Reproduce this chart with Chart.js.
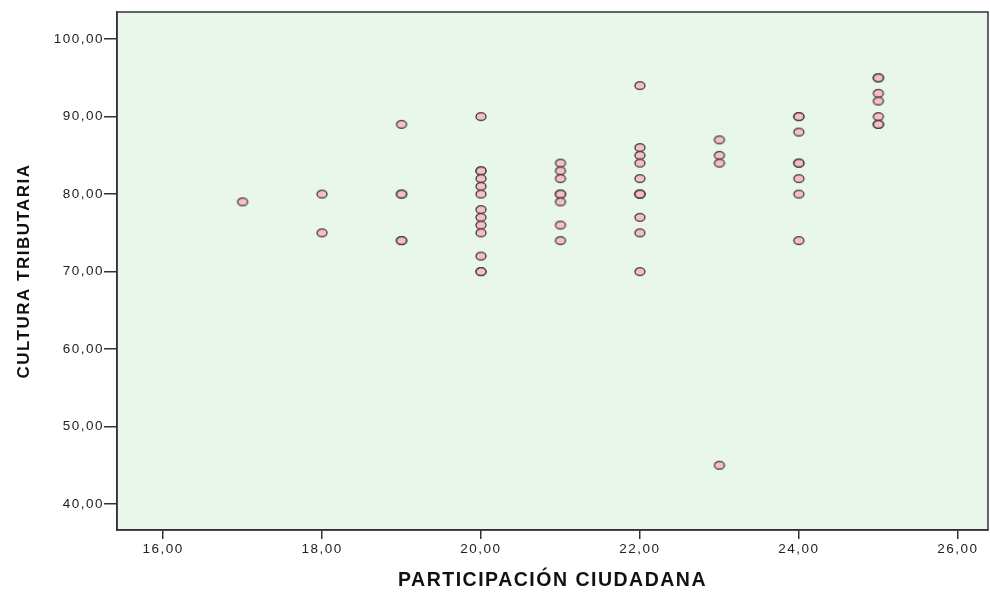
<!DOCTYPE html>
<html lang="es">
<head>
<meta charset="UTF-8">
<title>Cultura tributaria vs participación ciudadana</title>
<script src="https://cdn.jsdelivr.net/npm/chart.js@4.4.1/dist/chart.umd.min.js"></script>
<style>
  body { margin: 0; background: #fff; }
  canvas { display: block; }
</style>
</head>
<body>
<canvas id="scatter" width="990" height="593"></canvas>
<script>
// valores
const participacion = [
  17,
  18, 18,
  19, 19, 19, 19, 19,
  20, 20, 20, 20, 20, 20, 20, 20, 20, 20, 20, 20, 20,
  21, 21, 21, 21, 21, 21, 21, 21,
  22, 22, 22, 22, 22, 22, 22, 22, 22, 22, 22,
  23, 23, 23, 23,
  24, 24, 24, 24, 24, 24, 24, 24,
  25, 25, 25, 25, 25, 25, 25
];
const cultura = [
  79,
  80, 75,
  89, 80, 80, 74, 74,
  90, 83, 83, 82, 81, 80, 78, 77, 76, 75, 72, 70, 70,
  84, 83, 82, 80, 80, 79, 76, 74,
  94, 86, 85, 84, 82, 80, 80, 80, 77, 75, 70,
  87, 85, 84, 45,
  90, 90, 88, 84, 84, 82, 80, 74,
  95, 95, 93, 92, 90, 89, 89
];
const xTicks = [16, 18, 20, 22, 24, 26];
const yTicks = [40, 50, 60, 70, 80, 90, 100];

const points = participacion.map((x, i) => ({ x: x, y: cultura[i] }));

// marcador elíptico como el de SPSS
const marker = document.createElement('canvas');
marker.width = 14;
marker.height = 11;
(function () {
  const c = marker.getContext('2d');
  c.beginPath();
  c.ellipse(7, 5.5, 5, 3.9, 0, 0, Math.PI * 2);
  c.fillStyle = '#f8bfc0';
  c.fill();
  c.lineWidth = 1.3;
  c.strokeStyle = '#3a3a3a';
  c.stroke();
})();

const fmt = v => Number(v).toFixed(2).replace('.', ',');

const plotFrame = {
  id: 'plotFrame',
  beforeDraw(chart) {
    const { ctx, chartArea: a } = chart;
    ctx.letterSpacing = '1.5px';
    ctx.save();
    ctx.fillStyle = '#e9f7ea';
    ctx.fillRect(a.left, a.top, a.right - a.left, a.bottom - a.top);
    ctx.restore();
  },
  afterDraw(chart) {
    const { ctx, chartArea: a } = chart;
    ctx.save();
    ctx.strokeStyle = '#333';
    ctx.lineWidth = 1.5;
    ctx.strokeRect(a.left, a.top, a.right - a.left, a.bottom - a.top);
    ctx.restore();
  }
};

new Chart(document.getElementById('scatter'), {
  type: 'scatter',
  data: {
    datasets: [{
      data: points,
      pointStyle: marker,
      pointRadius: 5,
      pointHoverRadius: 5
    }]
  },
  options: {
    responsive: false,
    animation: false,
    events: [],
    layout: { autoPadding: false, padding: { left: 0, top: 12, right: 2, bottom: 0 } },
    plugins: { legend: { display: false }, tooltip: { enabled: false } },
    scales: {
      x: {
        type: 'linear',
        min: 15.42,
        max: 26.38,
        afterBuildTicks: s => { s.ticks = xTicks.map(v => ({ value: v })); },
        afterFit: s => { s.height = 63; s.paddingLeft = 0; s.paddingRight = 0; },
        grid: { drawOnChartArea: false, drawTicks: true, tickLength: 9, color: '#333', lineWidth: 1.5 },
        border: { display: true, color: '#333', width: 1.5 },
        ticks: {
          callback: v => fmt(v),
          color: '#222',
          padding: 2,
          maxRotation: 0,
          autoSkip: false,
          font: { family: 'Liberation Sans, Arial, sans-serif', size: 13.5 }
        },
        title: {
          display: true,
          text: 'PARTICIPACIÓN CIUDADANA',
          color: '#111',
          padding: { top: 0, bottom: 1 },
          font: { family: 'Liberation Sans, Arial, sans-serif', size: 19.5, weight: 'bold' }
        }
      },
      y: {
        type: 'linear',
        min: 36.65,
        max: 103.5,
        afterBuildTicks: s => { s.ticks = yTicks.map(v => ({ value: v })); },
        afterFit: s => { s.width = 117; s.paddingTop = 0; s.paddingBottom = 0; },
        grid: { drawOnChartArea: false, drawTicks: true, tickLength: 13, color: '#333', lineWidth: 1.5 },
        border: { display: true, color: '#333', width: 1.5 },
        ticks: {
          callback: v => fmt(v),
          color: '#222',
          padding: 0,
          autoSkip: false,
          font: { family: 'Liberation Sans, Arial, sans-serif', size: 13.5 }
        },
        title: {
          display: true,
          text: 'CULTURA TRIBUTARIA',
          color: '#111',
          padding: { top: 14, bottom: 0 },
          font: { family: 'Liberation Sans, Arial, sans-serif', size: 17, weight: 'bold' }
        }
      }
    }
  },
  plugins: [plotFrame]
});
</script>
</body>
</html>
